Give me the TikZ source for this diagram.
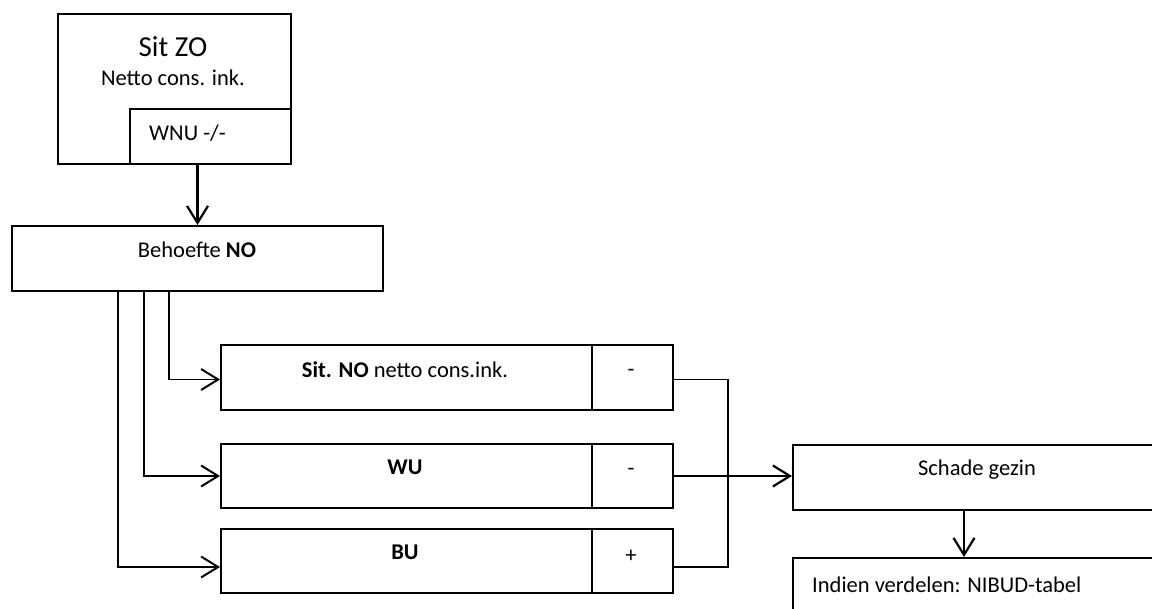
\documentclass[tikz,border=0pt]{standalone}
\usepackage{fontspec}
\setmainfont{Carlito}
\usetikzlibrary{positioning,arrows.meta}

\begin{document}
\begin{tikzpicture}[x=1pt,y=-1pt,
        box/.style={draw,line width=2pt,inner sep=0pt,anchor=north west},
        txt/.style={font=\fontsize{22.5}{25}\selectfont,inner sep=0pt},
        link/.style={line width=1.8pt},
        punt/.style={-{Straight Barb[length=17pt,width=21pt,line width=2pt]}},
        pijl/.style={line width=2.8pt,-{Straight Barb[length=17pt,width=21pt,line width=2.2pt]}}]
        \clip (0,0) rectangle (1152,609);
        % bovenste blok
        \node[box,minimum width=233,minimum height=150] (zo) at (57,13) {};
        \node[box,minimum width=161,minimum height=55] (wnu) at (129,108) {};
        \node[txt,font=\fontsize{29}{31}\selectfont] (zotitel) at (173,47) {Sit ZO};
        \node[txt] (zotekst) at (173,78) {Netto cons. ink.};
        \node[txt,anchor=west] (wnutekst) at (149,133) {WNU -/-};
        % behoefte
        \node[box,minimum width=371,minimum height=65] (behoefte) at (11,225) {};
        \node[txt] (behoeftetekst) at (197,250) {Behoefte \textbf{NO}};
        % drie posten
        \node[box,minimum width=371,minimum height=65] (sitno) at (220,344) {};
        \node[box,minimum width=81,minimum height=65] (sitnoteken) at (591,344) {};
        \node[box,minimum width=371,minimum height=64] (wu) at (220,443) {};
        \node[box,minimum width=81,minimum height=64] (wuteken) at (591,443) {};
        \node[box,minimum width=371,minimum height=64] (bu) at (220,528) {};
        \node[box,minimum width=81,minimum height=64] (buteken) at (591,528) {};
        \node[txt] at (405,370) {\textbf{Sit. NO} netto cons.ink.};
        \node[txt] at (631,373) {-};
        \node[txt] at (405,467) {\textbf{WU}};
        \node[txt] at (631,472) {-};
        \node[txt] at (405,552) {\textbf{BU}};
        \node[txt] at (631,556) {+};
        % schade
        \node[box,minimum width=370,minimum height=65] (schade) at (792,444) {};
        \node[box,minimum width=370,minimum height=65] (indien) at (792,557) {};
        \node[txt] (schadetekst) at (977,470) {Schade gezin};
        \node[txt,anchor=west] (indientekst) at (812,585) {Indien verdelen: NIBUD-tabel};
        % verbindingen
        \draw[pijl] (behoefte.north |- wnu.south) -- (behoefte.north);
        \draw[link,punt] ([xshift=158pt]behoefte.south west) |- ([yshift=-2pt]sitno.west);
        \draw[link,punt] ([xshift=133pt]behoefte.south west) |- (wu.west);
        \draw[link,punt] ([xshift=107pt]behoefte.south west) |- ([yshift=-6pt]bu.west);
        \draw[link] ([yshift=-2pt]sitnoteken.east) -| (728,475) |- ([yshift=-6pt]buteken.east);
        \draw[pijl] (wuteken.east) -- (wuteken.east -| schade.west);
        \draw[pijl] ([xshift=-14pt]schade.south) -- ([xshift=-14pt]indien.north);
    \end{tikzpicture}
\end{document}
